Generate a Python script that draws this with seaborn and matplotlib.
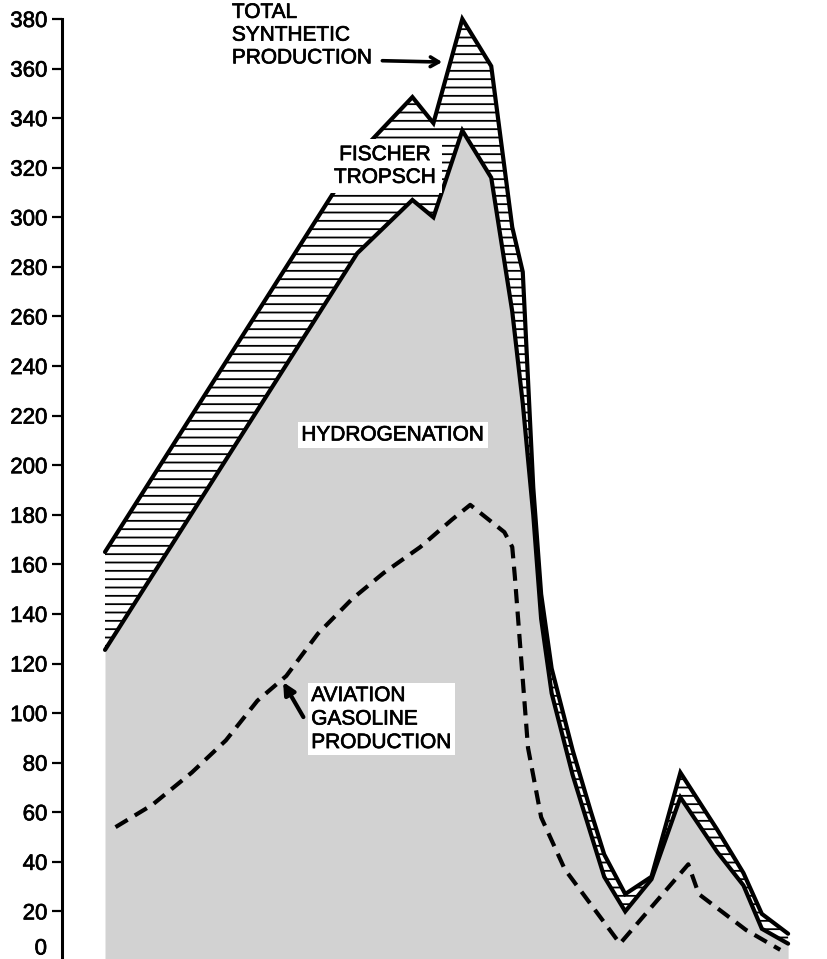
import matplotlib
matplotlib.use("Agg")
import matplotlib.pyplot as plt
import matplotlib.patheffects as pe
import seaborn as sns

# ---- data (x in months from the start of the record) ----
months = [0.0, 9.6, 11.7, 12.5, 13.6, 14.7, 15.5, 15.9, 16.3, 16.6, 17.0,
          17.8, 18.5, 19.0, 19.8, 20.8, 21.9, 23.3, 24.3, 25.0, 26.0]
total_synthetic = [165, 325, 348.5, 338, 380, 361, 296, 278, 191, 148, 118,
                   85, 60, 43, 27, 34, 76, 53, 35.5, 19, 11]
hydrogenation = [125.5, 285.5, 307, 300, 335, 316, 262, 225, 180, 138, 108,
                 75, 51, 34, 20, 33, 66, 44, 30.5, 13, 7]
avgas_months = [0.4, 1.8, 3.3, 4.6, 5.8, 6.9, 8.1, 9.4, 10.6, 12.0, 13.2, 13.9,
                15.2, 15.5, 15.6, 16.1, 16.6, 17.5, 19.6, 22.2, 22.6, 24.4, 25.7]
avgas = [54, 63, 76, 89, 105, 115, 132, 146, 156.5, 167, 178, 184,
         173, 167, 155, 86, 58, 37, 7, 39, 27, 12.5, 4.5]
ytick_values = list(range(20, 381, 20))
ytick_labels = [str(v) for v in ytick_values]

sns.set_style("white")
plt.rcParams["font.family"] = ["Liberation Sans", "DejaVu Sans"]
plt.rcParams["hatch.linewidth"] = 1.3
plt.rcParams["text.color"] = "black"
plt.rcParams["ytick.color"] = "black"
plt.rcParams["ytick.labelcolor"] = "black"

heavy = [pe.withStroke(linewidth=0.5, foreground="black")]

fig = plt.figure(figsize=(8.27, 9.59), dpi=100)
ax = fig.add_axes([62 / 827, -2 / 959, 765 / 827, 942 / 959])

# areas
ax.fill_between(months, 0, hydrogenation, color="#d2d2d2", lw=0, zorder=1)
ax.fill_between(months, hydrogenation, total_synthetic, facecolor="white",
                edgecolor="black", hatch="--", lw=0, zorder=1.2)

# lines
sns.lineplot(x=avgas_months, y=avgas, ax=ax, color="black", lw=3.0,
             linestyle=(0, (3.4, 2.0)), dash_capstyle="butt", zorder=2)
sns.lineplot(x=months, y=hydrogenation, ax=ax, color="black", lw=3.0,
             solid_joinstyle="miter", zorder=2.5)
sns.lineplot(x=months, y=total_synthetic, ax=ax, color="black", lw=3.0,
             solid_joinstyle="miter", zorder=2.5, clip_on=False)

# axes styling
ax.set_xlim(-1.637, 27.48)
ax.set_ylim(0, 380)
ax.set_xticks([])
ax.set_yticks(ytick_values)
ax.set_yticklabels(ytick_labels)
ax.tick_params(axis="y", length=7, width=1.6, labelsize=16, pad=3.5,
               direction="out", left=True, color="black", labelcolor="black")
for lab in ax.get_yticklabels():
    lab.set_path_effects(heavy)
for s in ["top", "right", "bottom"]:
    ax.spines[s].set_visible(False)
ax.spines["left"].set_linewidth(2.2)
ax.spines["left"].set_color("black")
ax.set_xlabel("")
ax.set_ylabel("")
ax.annotate("0", xy=(0, 0), xycoords=("axes fraction", "data"),
            xytext=(-15, 12), textcoords="offset pixels",
            ha="right", va="center", fontsize=16, path_effects=heavy)

# labels
fs = 15
ax.text(4.83, 373.5, "TOTAL\nSYNTHETIC\nPRODUCTION", ha="left", va="center",
        fontsize=fs, linespacing=1.25, zorder=4, path_effects=heavy)
ax.annotate("", xy=(12.94, 362.6), xytext=(10.45, 363.2),
            arrowprops=dict(arrowstyle="->,head_length=0.6,head_width=0.35",
                            lw=2.6, color="black"), zorder=4)
ax.text(10.66, 320.7, "FISCHER\nTROPSCH", ha="center", va="center",
        fontsize=fs, linespacing=1.25, zorder=4, path_effects=heavy,
        bbox=dict(boxstyle="square,pad=0.3", facecolor="white", edgecolor="none"))
ax.text(10.96, 212.2, "HYDROGENATION", ha="center", va="center",
        fontsize=fs, zorder=4, path_effects=heavy,
        bbox=dict(boxstyle="square,pad=0.15", facecolor="white", edgecolor="none"))
ax.text(7.85, 97.6, "AVIATION\nGASOLINE\nPRODUCTION", ha="left", va="center",
        fontsize=fs, linespacing=1.3, zorder=4, path_effects=heavy,
        bbox=dict(boxstyle="square,pad=0.15", facecolor="white", edgecolor="none"))
ax.annotate("", xy=(6.78, 112.5), xytext=(7.55, 98.4),
            arrowprops=dict(arrowstyle="-|>,head_length=0.7,head_width=0.35",
                            lw=3, color="black", shrinkA=0, shrinkB=0), zorder=4)

fig.savefig("out.png", dpi=100)
